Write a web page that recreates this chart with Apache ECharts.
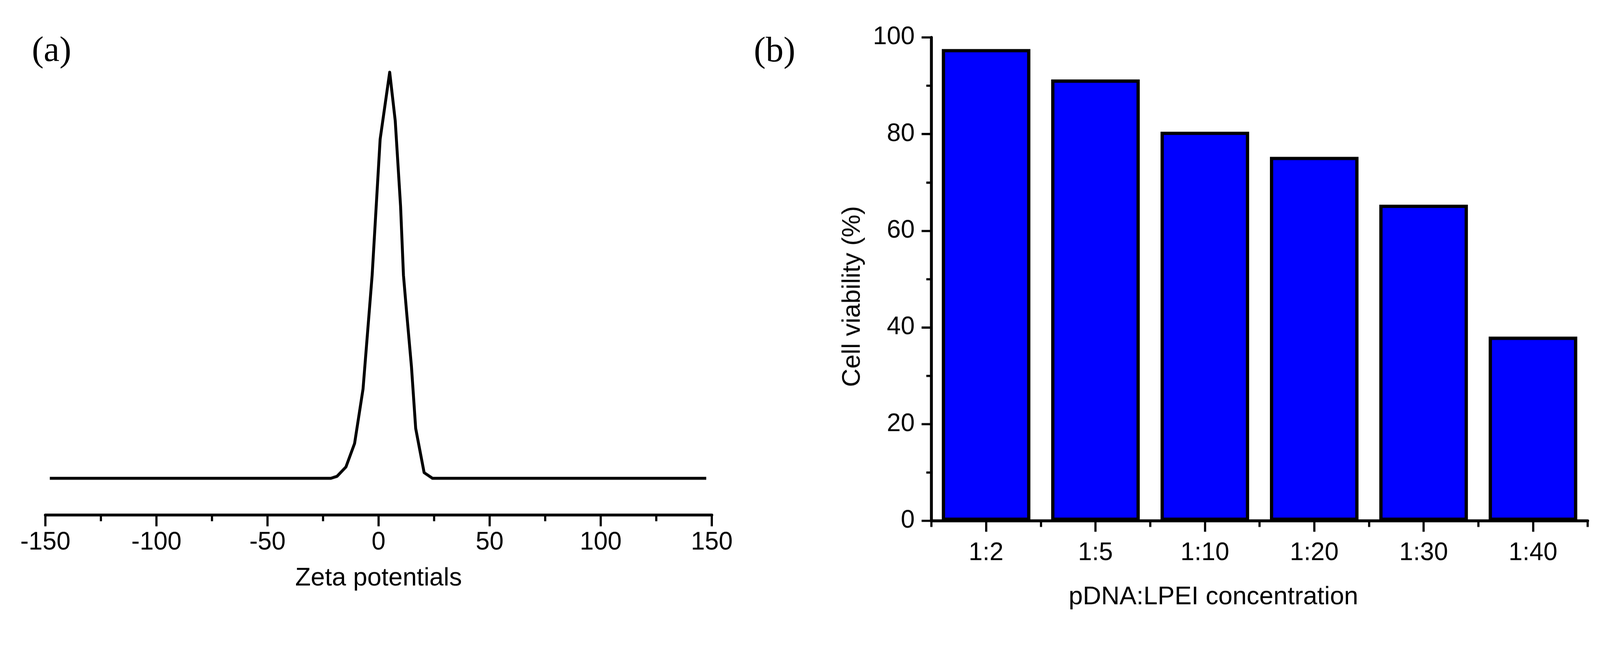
<!DOCTYPE html>
<html>
<head>
<meta charset="utf-8">
<script src="https://cdn.jsdelivr.net/npm/echarts@6/dist/echarts.min.js"></script>
<style>
html,body{margin:0;padding:0;background:#fff;overflow:hidden;}
#c{width:4408px;height:1702px;transform-origin:0 0;}
</style>
</head>
<body>
<div id="c"></div>
<script>
// Panel (a): zeta potential distribution (x: mV, y: relative intensity)
const zetaX = [-148, -21.5, -18.7, -14.7, -10.8, -7.0, -2.9, 0.7, 5.0, 7.5, 9.9, 11.2, 12.6, 14.8, 16.7, 20.5, 24.3, 147.5];
const zetaY = [0, 0, 0.5, 2.8, 8.6, 22, 50, 83.5, 100, 88, 67, 50, 41, 27.5, 12.3, 1.4, 0, 0];
const zetaTicks = [-150, -100, -50, 0, 50, 100, 150];

// Panel (b): cell viability
const categories = ['1:2', '1:5', '1:10', '1:20', '1:30', '1:40'];
const viability = [97.6, 91.3, 80.5, 75.3, 65.4, 38.1];
const viabilityTicks = [0, 20, 40, 60, 80, 100];

const FONT = "'Liberation Sans', Arial, sans-serif";
const zetaData = zetaX.map((x, i) => [x, zetaY[i]]);

// Fit the 4408x1702 design into the actual viewport
const el = document.getElementById('c');
const vw = window.innerWidth || 4408;
const s = vw / 4408;
el.style.transform = 'scale(' + s + ')';
const dpr = (window.devicePixelRatio || 1) * s;

const chart = echarts.init(el, null, {renderer: 'canvas', devicePixelRatio: dpr, width: 4408, height: 1702});

const option = {
  backgroundColor: '#ffffff',
  animation: false,
  textStyle: {fontFamily: FONT, color: '#000'},
  graphic: [
    {type: 'text', x: 142, y: 142, style: {text: '(a)', font: "98px 'Liberation Serif', 'Times New Roman', serif", fill: '#000', textAlign: 'center', textVerticalAlign: 'middle'}},
    {type: 'text', x: 2134, y: 143, style: {text: '(b)', font: "98px 'Liberation Serif', 'Times New Roman', serif", fill: '#000', textAlign: 'center', textVerticalAlign: 'middle'}}
  ],
  grid: [
    {left: 125, width: 1836, top: 87, height: 1331, containLabel: false},
    {left: 2566, width: 1808, top: 103, height: 1331, containLabel: false}
  ],
  xAxis: [
    {
      type: 'value', gridIndex: 0, position: 'bottom',
      min: zetaTicks[0], max: zetaTicks[zetaTicks.length - 1], interval: 50,
      splitLine: {show: false},
      axisLine: {show: true, onZero: false, lineStyle: {color: '#000', width: 8}},
      axisTick: {show: true, inside: false, length: 31, lineStyle: {color: '#000', width: 6}},
      minorTick: {show: true, splitNumber: 2, length: 17, lineStyle: {color: '#000', width: 6}},
      minorSplitLine: {show: false},
      axisLabel: {show: true, margin: 42, fontSize: 69, fontFamily: FONT, color: '#000'},
      name: 'Zeta potentials', nameLocation: 'middle', nameGap: 140,
      nameTextStyle: {fontSize: 70, fontFamily: FONT, color: '#000'}
    },
    {
      type: 'category', gridIndex: 1, position: 'bottom', data: categories,
      boundaryGap: true,
      axisLine: {show: true, onZero: false, lineStyle: {color: '#000', width: 8}},
      axisTick: {show: true, alignWithLabel: true, inside: false, length: 30, lineStyle: {color: '#000', width: 6}},
      axisLabel: {show: true, margin: 55, fontSize: 69, fontFamily: FONT, color: '#000'},
      splitLine: {show: false},
      name: 'pDNA:LPEI concentration', nameLocation: 'middle', nameGap: 175,
      nameTextStyle: {fontSize: 70, fontFamily: FONT, color: '#000', padding: [0, 254, 0, 0]}
    },
    {
      type: 'category', gridIndex: 1, position: 'bottom', data: categories,
      boundaryGap: true,
      axisLine: {show: false, onZero: false},
      axisTick: {show: true, alignWithLabel: false, inside: false, length: 17, lineStyle: {color: '#000', width: 6}},
      axisLabel: {show: false},
      splitLine: {show: false}
    }
  ],
  yAxis: [
    {
      type: 'value', gridIndex: 0, min: -9.03, max: 110, show: false,
      splitLine: {show: false}
    },
    {
      type: 'value', gridIndex: 1, position: 'left',
      min: viabilityTicks[0], max: viabilityTicks[viabilityTicks.length - 1], interval: 20,
      splitLine: {show: false},
      axisLine: {show: true, onZero: false, lineStyle: {color: '#000', width: 8}},
      axisTick: {show: true, inside: false, length: 27, lineStyle: {color: '#000', width: 6}},
      minorTick: {show: true, splitNumber: 2, length: 14, lineStyle: {color: '#000', width: 6}},
      minorSplitLine: {show: false},
      axisLabel: {show: true, margin: 46, fontSize: 69, fontFamily: FONT, color: '#000'},
      name: 'Cell viability (%)', nameLocation: 'middle', nameGap: 182, nameRotate: 90,
      nameTextStyle: {fontSize: 70, fontFamily: FONT, color: '#000', padding: [0, 96, 0, 0]}
    }
  ],
  series: [
    {
      type: 'line', xAxisIndex: 0, yAxisIndex: 0, data: zetaData,
      symbol: 'none', smooth: false,
      lineStyle: {color: '#000', width: 8, join: 'round', cap: 'butt'}
    },
    {
      type: 'bar', xAxisIndex: 1, yAxisIndex: 1, data: viability,
      barCategoryGap: '19%',
      itemStyle: {color: '#0000ff', borderColor: '#000', borderWidth: 9}
    }
  ]
};
chart.setOption(option);
</script>
</body>
</html>
